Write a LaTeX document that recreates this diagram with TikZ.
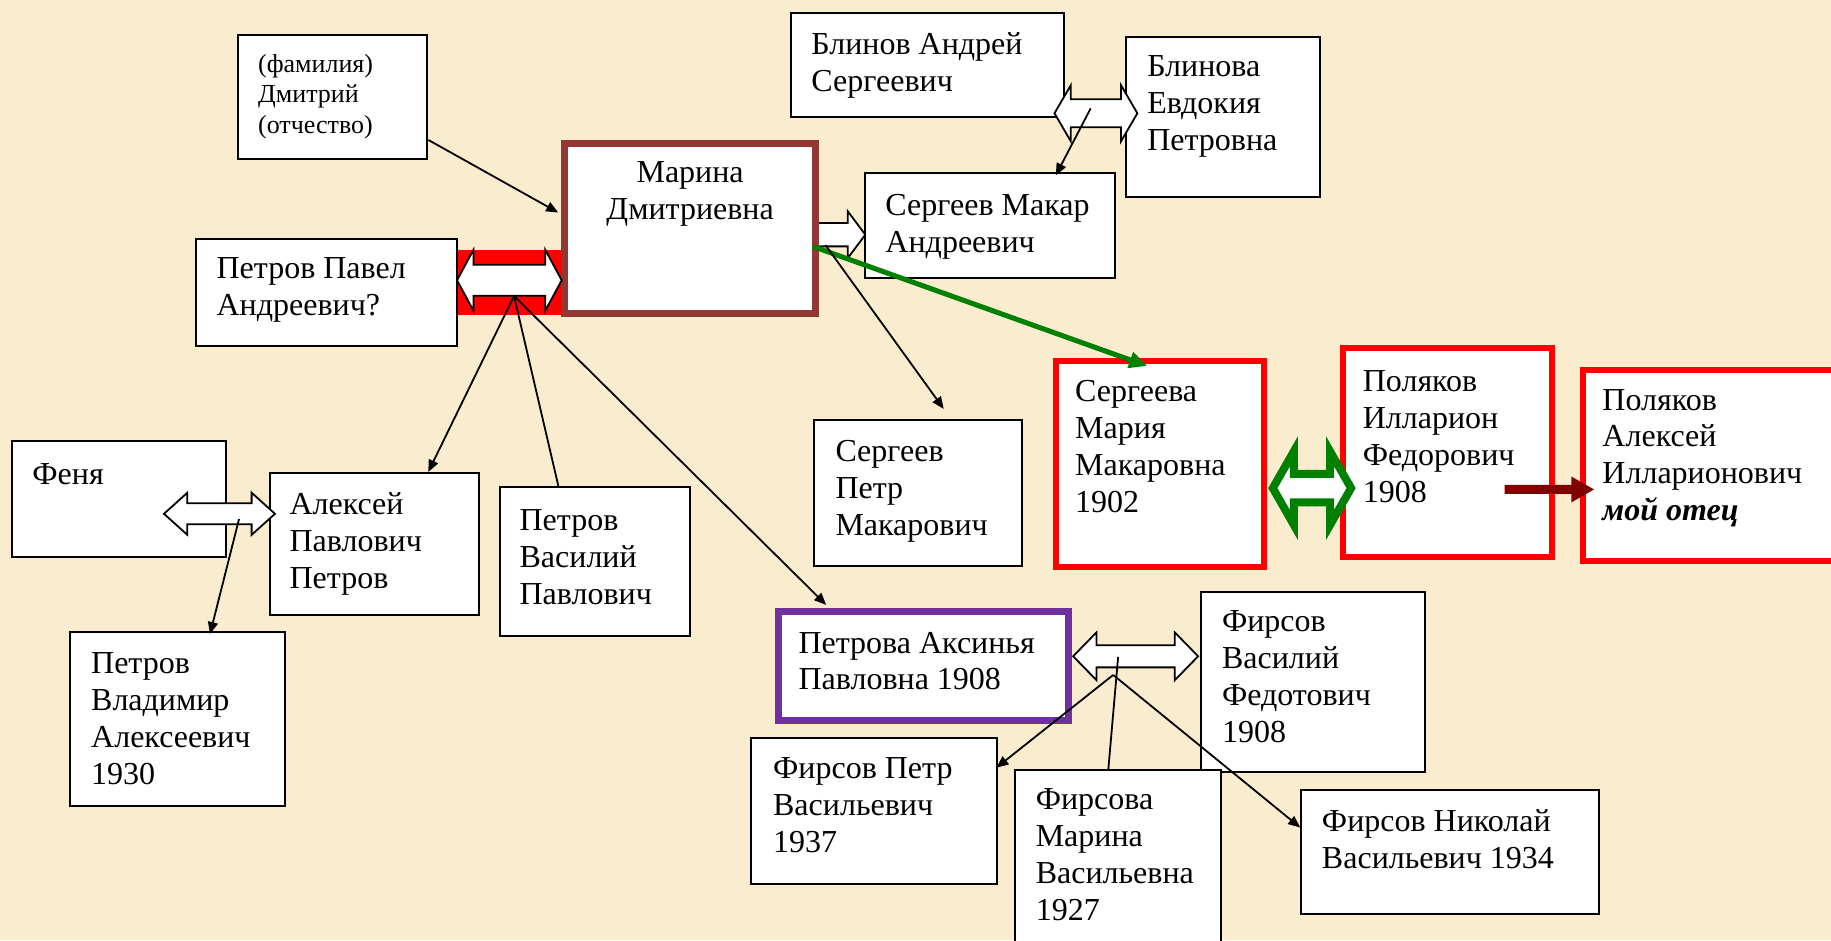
\documentclass[tikz,border=0pt]{standalone}
\usepackage{fontspec}
\setmainfont{Liberation Serif}
\usetikzlibrary{arrows.meta,calc,fit}
\definecolor{bgc}{RGB}{250,236,206}
\definecolor{brownb}{RGB}{148,54,52}
\definecolor{purpleb}{RGB}{112,48,160}
\definecolor{greena}{RGB}{0,128,0}
\definecolor{darkreda}{RGB}{128,0,0}
\newcommand\dblarrow[7]{%
  \draw[#1] (#2,#4) -- ({#2+#7},{#4-#6}) -- ({#2+#7},{#4-#5}) -- ({#3-#7},{#4-#5}) -- ({#3-#7},{#4-#6}) -- (#3,#4) -- ({#3-#7},{#4+#6}) -- ({#3-#7},{#4+#5}) -- ({#2+#7},{#4+#5}) -- ({#2+#7},{#4+#6}) -- cycle;}
\newcommand\sglarrow[7]{%
  \draw[#1] (#2,{#4-#5}) -- ({#3-#7},{#4-#5}) -- ({#3-#7},{#4-#6}) -- (#3,#4) -- ({#3-#7},{#4+#6}) -- ({#3-#7},{#4+#5}) -- (#2,{#4+#5}) -- cycle;}
\begin{document}
\begin{tikzpicture}[x={(0.58385pt,0)}, y={(0,-0.58385pt)},
  box/.style={draw=black, line width=1pt, fill=white, inner sep=0pt},
  redbox/.style={draw=red, line width=3pt, fill=white, inner sep=0pt},
  txt/.style={inner sep=0pt, anchor=north west, align=left, font=\fontsize{16}{18.4}\selectfont},
  conn/.style={line width=0.9pt, -{Triangle[length=6pt,width=5pt]}},
  plainline/.style={line width=0.9pt},
  blockarr/.style={draw=black, line width=0.9pt, fill=white, line join=miter},
  greenblock/.style={draw=greena, line width=4pt, fill=white, line join=miter},
  greenconn/.style={draw=greena, line width=2.5pt, -{Triangle[length=9pt,width=8pt]}},
  redconn/.style={draw=darkreda, line width=4.5pt, -{Triangle[length=11.5pt,width=12pt]}},
]
\useasboundingbox (0,0) rectangle (1568,805);
\fill[bgc] (0,0) rectangle (1568,805);

% red band behind the Petrov marriage arrow
\fill[red] (391,214) rectangle (483,270);
% white arrow from Marina to Sergeev Makar
\sglarrow{blockarr}{690}{741}{201}{10}{20}{15}

% boxes
\node[box, fit={(204,30) (366,136)}] (fam) {};
\node[txt, font=\fontsize{13}{15.2}\selectfont] (famt) at ($(fam.north west)+(17.6,17)$) {(фамилия)\\Дмитрий\\(отчество)};

\node[box, draw=brownb, line width=3.5pt, fit={(483.5,123) (698,268.5)}] (marina) {};
\node[txt, anchor=north, align=center] (marinat) at ($(marina.north)+(0.25,18.3)$) {Марина\\Дмитриевна};

\node[box, fit={(168,205) (391,296)}] (pavel) {};
\node[txt] (pavelt) at ($(pavel.north west)+(18,16.2)$) {Петров Павел\\Андреевич?};

\node[box, fit={(677,11.5) (911.5,100.5)}] (blinov) {};
\node[txt] (blinovt) at ($(blinov.north west)+(18.4,17.1)$) {Блинов Андрей\\Сергеевич};

\node[box, fit={(964,32) (1130.5,169)}] (blinova) {};
\node[txt] (blinovat) at ($(blinova.north west)+(19,16.5)$) {Блинова\\Евдокия\\Петровна};

\node[box, fit={(741,148) (955,238)}] (makar) {};
\node[txt] (makart) at ($(makar.north west)+(17.8,19)$) {Сергеев Макар\\Андреевич};

\node[box, fit={(697,360) (875,485)}] (petr) {};
\node[txt] (petrt) at ($(petr.north west)+(19,17.5)$) {Сергеев\\Петр\\Макарович};

\node[redbox, fit={(904,309.5) (1082.5,485.5)}] (sergeeva) {};
\node[txt] (sergeevat) at ($(sergeeva.north west)+(19,18.8)$) {Сергеева\\Мария\\Макаровна\\1902};

\node[redbox, fit={(1150,298) (1329,477)}] (ilarion) {};
\node[txt] (ilariont) at ($(ilarion.north west)+(19.3,21.7)$) {Поляков\\Илларион\\Федорович\\1908};

\node[redbox, fit={(1355.5,316.5) (1580,480.5)}] (apol) {};
\node[txt] (apolt) at ($(apol.north west)+(19,19)$) {Поляков\\Алексей\\Илларионович\\\textbf{\textit{мой отец}}};

\node[box, fit={(10.6,377.7) (193.5,476.7)}] (fenya) {};
\node[txt] (fenyat) at ($(fenya.north west)+(17.7,19.8)$) {Феня};

\node[box, fit={(231,405) (410,527)}] (alekseyp) {};
\node[txt] (alekseypt) at ($(alekseyp.north west)+(17.5,17.5)$) {Алексей\\Павлович\\Петров};

\node[box, fit={(428,417) (591,545)}] (vasily) {};
\node[txt] (vasilyt) at ($(vasily.north west)+(17.5,19.8)$) {Петров\\Василий\\Павлович};

\node[box, fit={(60,541.5) (244,690)}] (vladimir) {};
\node[txt] (vladimirt) at ($(vladimir.north west)+(18.6,18)$) {Петров\\Владимир\\Алексеевич\\1930};

\node[box, draw=purpleb, line width=3.5pt, fit={(666.5,524) (915,617)}] (aksinya) {};
\node[txt] (aksinyat) at ($(aksinya.north west)+(20,19.8)$) {Петрова Аксинья\\Павловна 1908};

\node[box, fit={(1028.5,506.7) (1220,661)}] (firsovv) {};
\node[txt] (firsovvt) at ($(firsovv.north west)+(18.5,17)$) {Фирсов\\Василий\\Федотович\\1908};

\node[box, fit={(643.3,632.3) (853.4,757)}] (firsovp) {};
\node[txt] (firsovpt) at ($(firsovp.north west)+(19.3,17)$) {Фирсов Петр\\Васильевич\\1937};

\node[box, fit={(869.3,659.4) (1045.6,815)}] (firsovam) {};
\node[txt] (firsovamt) at ($(firsovam.north west)+(18.2,16.6)$) {Фирсова\\Марина\\Васильевна\\1927};

\node[box, fit={(1114.3,676.5) (1369,783)}] (firsovn) {};
\node[txt] (firsovnt) at ($(firsovn.north west)+(18.3,17.2)$) {Фирсов Николай\\Васильевич 1934};

% marriage block arrows
\dblarrow{blockarr}{391.4}{481}{240}{13.2}{26}{14}
\dblarrow{blockarr}{903}{974}{97}{12}{24}{14}
\dblarrow{blockarr}{140.4}{235.5}{440}{9}{18}{20}
\dblarrow{blockarr}{919}{1026}{562}{9.5}{20.5}{20}
\dblarrow{greenblock}{1090}{1157}{418}{12.2}{31.5}{18}

% junction points on the marriage arrows
\coordinate (pm) at (440.2,253.5);
\coordinate (bm) at (934,92.8);
\coordinate (fm) at (204.7,444.5);
\coordinate (am) at (957.5,562.6);
\coordinate (am2) at (953.3,578);

% connectors
\draw[conn] ($(fam.south east)+(0,-17)$) -- ($(marina.north west)+(-2.5,62)$);
\draw[conn] (pm) -- ($(alekseyp.north west)+(136.6,0)$);
\draw[plainline] (pm) -- ($(vasily.north west)+(51,0)$);
\draw[conn] (pm) -- ($(aksinya.north west)+(44,-3)$);
\draw[conn] (fm) -- ($(vladimir.north west)+(120.7,2.3)$);
\draw[conn] (bm) -- ($(makar.north west)+(164,3)$);
\draw[greenconn] ($(marina.north east)+(-5,91)$) -- ($(sergeeva.north west)+(81,6.5)$);
\draw[conn] ($(marina.north east)+(6,90)$) -- ($(petr.north west)+(112,-9)$);
\draw[plainline] (am) -- ($(firsovam.north west)+(80.7,0)$);
\draw[conn] (am2) -- ($(firsovp.north east)+(-1,26)$);
\draw[conn] (am2) -- ($(firsovn.north west)+(0,33)$);
\draw[redconn] ($(ilarion.north east)+(-43,123.7)$) -- ($(apol.north west)+(12.5,105.2)$);
\end{tikzpicture}
\end{document}
